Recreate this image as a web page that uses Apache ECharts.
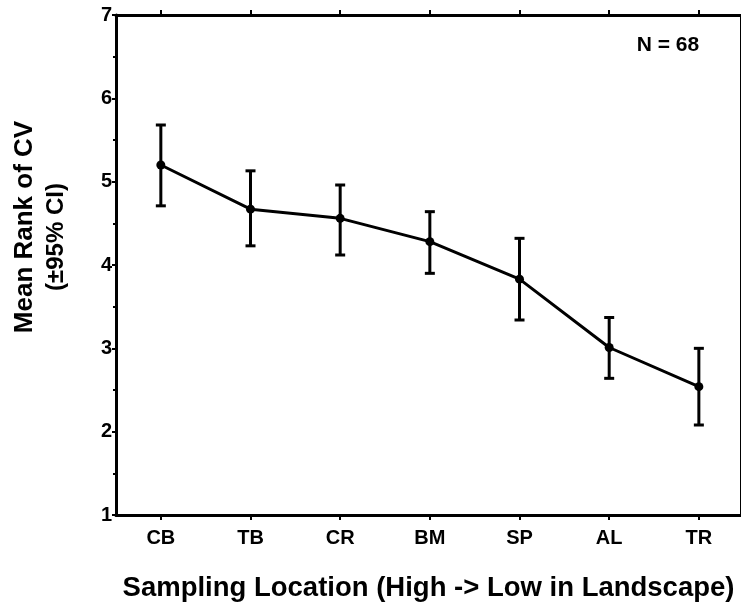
<!DOCTYPE html>
<html>
<head>
<meta charset="utf-8">
<script src="https://cdn.jsdelivr.net/npm/echarts@6/dist/echarts.min.js"></script>
<style>
  html, body { margin: 0; padding: 0; background: #fff; }
  #chart { width: 741px; height: 607px; }
</style>
</head>
<body>
<div id="chart"></div>
<script>
// data
var categories = ['CB', 'TB', 'CR', 'BM', 'SP', 'AL', 'TR'];
var meanRank = [5.20, 4.67, 4.56, 4.28, 3.83, 3.01, 2.54];
var ciLow = [4.71, 4.23, 4.12, 3.90, 3.34, 2.64, 2.08];
var ciHigh = [5.68, 5.13, 4.96, 4.64, 4.32, 3.37, 3.00];
var yTicks = [1, 2, 3, 4, 5, 6, 7];

var font = 'Liberation Sans, Arial, sans-serif';
var catIdx = categories.map(function (c, i) { return i; });

var lineData = meanRank.map(function (v, i) { return [i, v]; });
var barData = catIdx.map(function (i) { return [i, ciLow[i], ciHigh[i]]; });

var myChart = echarts.init(document.getElementById('chart'));

var option = {
    backgroundColor: '#fff',
    animation: false,
    grid: {
        left: 116,
        right: 0,
        top: 15,
        bottom: 92
    },
    xAxis: [
        {
            type: 'value',
            position: 'bottom',
            min: -0.5,
            max: 6.47,
            splitLine: { show: false },
            axisLine: { show: true, onZero: false, lineStyle: { color: '#000', width: 3 } },
            axisTick: { show: true, customValues: catIdx, length: 5, lineStyle: { color: '#000', width: 2 } },
            axisLabel: {
                customValues: catIdx,
                formatter: function (v) { return categories[Math.round(v)]; },
                color: '#000',
                fontFamily: font,
                fontWeight: 'bold',
                fontSize: 20,
                margin: 13
            },
            name: 'Sampling Location (High -> Low in Landscape)',
            nameLocation: 'middle',
            nameGap: 59,
            nameTextStyle: { color: '#000', fontFamily: font, fontWeight: 'bold', fontSize: 27.5 }
        },
        {
            type: 'value',
            position: 'top',
            min: -0.5,
            max: 6.47,
            splitLine: { show: false },
            axisLine: { show: true, onZero: false, lineStyle: { color: '#000', width: 3 } },
            axisTick: { show: true, customValues: catIdx, length: 5, lineStyle: { color: '#000', width: 2 } },
            axisLabel: { show: false }
        }
    ],
    yAxis: [
        {
            type: 'value',
            position: 'left',
            min: 1,
            max: 7,
            interval: 1,
            splitLine: { show: false },
            axisLine: { show: true, onZero: false, lineStyle: { color: '#000', width: 3 } },
            axisTick: { show: true, length: 4, lineStyle: { color: '#000', width: 2 } },
            minorTick: { show: true, splitNumber: 2, length: 3, lineStyle: { color: '#000', width: 2 } },
            axisLabel: {
                customValues: yTicks,
                color: '#000',
                fontFamily: font,
                fontWeight: 'bold',
                fontSize: 20,
                margin: 4
            }
        },
        {
            type: 'value',
            position: 'right',
            min: 1,
            max: 7,
            splitLine: { show: false },
            axisLine: { show: true, onZero: false, lineStyle: { color: '#000', width: 2 } },
            axisTick: { show: false },
            axisLabel: { show: false }
        }
    ],
    graphic: [
        {
            type: 'text',
            x: 25, y: 227, rotation: Math.PI / 2,
            style: {
                text: 'Mean Rank of CV',
                fill: '#000',
                font: 'bold 26px ' + font,
                align: 'center',
                verticalAlign: 'middle'
            }
        },
        {
            type: 'text',
            x: 56, y: 237, rotation: Math.PI / 2,
            style: {
                text: '(±95% CI)',
                fill: '#000',
                font: 'bold 24px ' + font,
                align: 'center',
                verticalAlign: 'middle'
            }
        },
        {
            type: 'text',
            x: 668, y: 45,
            style: {
                text: 'N = 68',
                fill: '#000',
                font: 'bold 21px ' + font,
                align: 'center',
                verticalAlign: 'middle'
            }
        }
    ],
    series: [
        {
            name: 'CI',
            type: 'custom',
            xAxisIndex: 0,
            yAxisIndex: 0,
            data: barData,
            encode: { x: 0, y: [1, 2] },
            z: 2,
            renderItem: function (params, api) {
                var x = api.value(0);
                var lo = api.coord([x, api.value(1)]);
                var hi = api.coord([x, api.value(2)]);
                var w = 5;
                var st = { stroke: '#000', lineWidth: 3 };
                return {
                    type: 'group',
                    children: [
                        { type: 'line', shape: { x1: lo[0], y1: lo[1], x2: hi[0], y2: hi[1] }, style: st },
                        { type: 'line', shape: { x1: hi[0] - w, y1: hi[1], x2: hi[0] + w, y2: hi[1] }, style: st },
                        { type: 'line', shape: { x1: lo[0] - w, y1: lo[1], x2: lo[0] + w, y2: lo[1] }, style: st }
                    ]
                };
            }
        },
        {
            name: 'Mean',
            type: 'line',
            xAxisIndex: 0,
            yAxisIndex: 0,
            data: lineData,
            z: 3,
            symbol: 'circle',
            symbolSize: 9,
            itemStyle: { color: '#000' },
            lineStyle: { color: '#000', width: 3 }
        }
    ]
};

myChart.setOption(option);
window.addEventListener('resize', function () {
    myChart.resize();
});
</script>
</body>
</html>
